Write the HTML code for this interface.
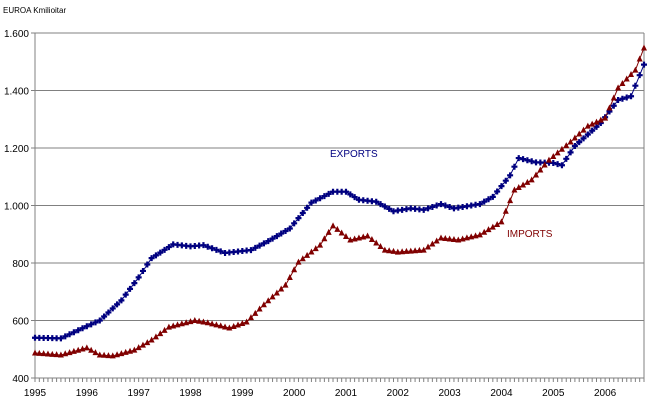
<!DOCTYPE html>
<html><head><style>
body{margin:0;background:#fff;width:649px;height:402px;overflow:hidden}
svg{display:block;font-family:"Liberation Sans",Arial,sans-serif}
</style></head><body>
<svg id="s" width="649" height="402" viewBox="0 0 649 402">
<text x="3" y="13" font-size="8" fill="#000">EUROA Kmilioitar</text>
</svg>
<script>
var s=document.getElementById('s'),h='';
var X0=35,X1=644,Y0=378,Y1=33,M=141;
function px(m){return X0+m*(X1-X0)/M}
function py(v){return Y0-(v-400)*(Y0-Y1)/1200}
for(var v=600;v<=1600;v+=200)h+='<line x1="35" x2="644" y1="'+py(v)+'" y2="'+py(v)+'" stroke="#808080" stroke-width="1"/>';
for(var v=400;v<=1600;v+=200){var t=v<1000?String(v):(v/1000|0)+'.'+String(v%1000).padStart(3,'0');
h+='<text x="29" y="'+(py(v)+4)+'" font-size="10" text-anchor="end">'+t+'</text><line x1="31" x2="35" y1="'+py(v)+'" y2="'+py(v)+'" stroke="#808080"/>';}
h+='<line x1="35" x2="35" y1="33" y2="378" stroke="#808080"/><line x1="644" x2="644" y1="33" y2="378" stroke="#808080"/><line x1="35" x2="644" y1="378" y2="378" stroke="#808080"/>';
for(var m=0;m<=M;m++){var x=px(m);h+='<line x1="'+x+'" x2="'+x+'" y1="378" y2="382" stroke="#808080"/>';}
for(var y=0;y<12;y++)h+='<text x="'+px(y*12)+'" y="396" font-size="10" text-anchor="middle">'+(1995+y)+'</text>';
function interp(k){var r=[];for(var m=0;m<=M;m++){for(var i=0;i<k.length-1;i++){if(m>=k[i][0]&&m<=k[i+1][0]){var a=k[i],b=k[i+1],t=(m-a[0])/(b[0]-a[0]);r.push(a[1]+(b[1]-a[1])*t);break;}}}return r}
var E=interp([[0,540],[6,538],[12,580],[15,600],[20,670],[24,750],[27,817],[32,865],[36,858],[39,862],[44,835],[50,845],[54,876],[59,920],[64,1010],[69,1048],[72,1048],[75,1020],[79,1013],[83,980],[87,990],[90,985],[94,1005],[97,990],[103,1005],[106,1030],[110,1105],[112,1165],[116,1150],[120,1148],[122,1140],[125,1207],[131,1287],[135,1367],[138,1380],[141,1490]]);
var I=interp([[0,487],[6,480],[12,505],[15,480],[18,477],[23,497],[27,532],[31,577],[37,600],[40,592],[45,574],[49,595],[53,655],[58,723],[61,803],[66,862],[69,929],[73,880],[77,894],[81,845],[84,838],[90,845],[94,887],[98,880],[103,898],[108,943],[111,1054],[115,1089],[119,1158],[124,1221],[128,1276],[132,1304],[135,1409],[139,1471],[141,1548]]);
function line(d,c){var p='';d.forEach(function(v,m){p+=(m?'L':'M')+px(m).toFixed(1)+' '+py(v).toFixed(1)});return '<path d="'+p+'" fill="none" stroke="'+c+'" stroke-width="1"/>'}
h+=line(E,'#000080')+line(I,'#800000');
E.forEach(function(v,m){var x=px(m),y=py(v);h+='<path d="M'+(x-3)+' '+y+'L'+(x+3)+' '+y+'M'+x+' '+(y-3)+'L'+x+' '+(y+3)+'" stroke="#000080" stroke-width="2.2"/>'});
I.forEach(function(v,m){var x=px(m),y=py(v);h+='<polygon points="'+(x-3)+','+(y+2.5)+' '+(x+3)+','+(y+2.5)+' '+x+','+(y-3.5)+'" fill="#800000"/>'});
h+='<text x="330" y="157" font-size="10" fill="#000080">EXPORTS</text><text x="507" y="237" font-size="10" fill="#800000">IMPORTS</text>';
s.insertAdjacentHTML('beforeend',h);
</script>
</body></html>
